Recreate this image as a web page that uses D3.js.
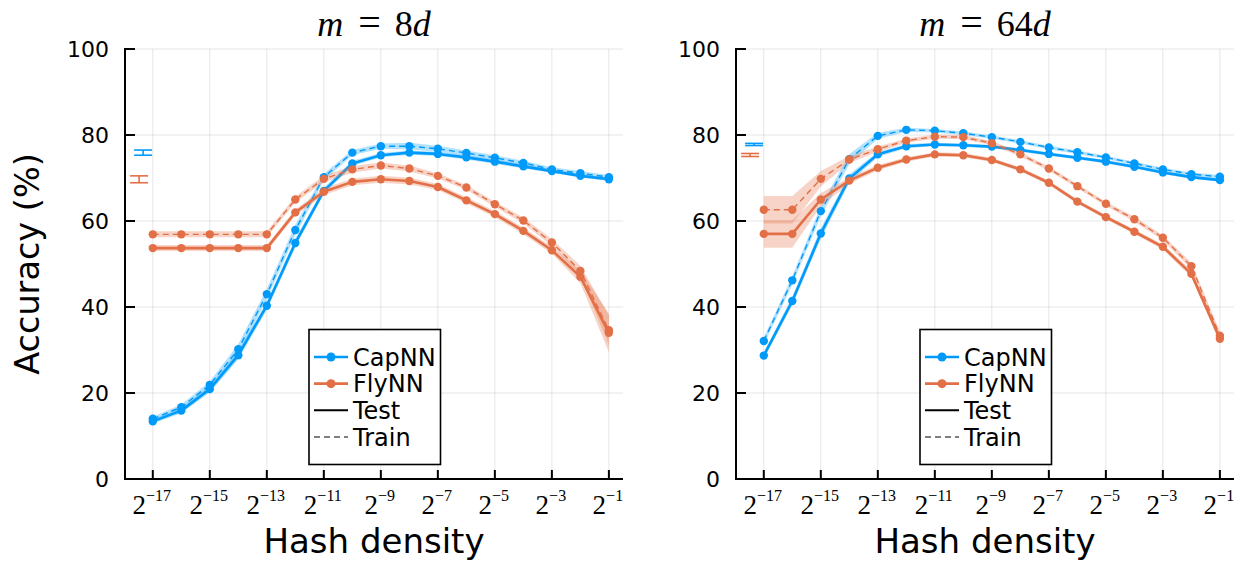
<!DOCTYPE html>
<html>
<head>
<meta charset="utf-8">
<script src="https://cdn.jsdelivr.net/npm/d3@7"></script>
<style>
  html, body { margin: 0; padding: 0; background: #ffffff; }
  svg { display: block; }
</style>
</head>
<body>
<svg id="chart" width="1240" height="563"></svg>
<script>
// ---------------- DATA ----------------
const exponents = [-17, -16, -15, -14, -13, -12, -11, -10, -9, -8, -7, -6, -5, -4, -3, -2, -1];
const xTickExps = [-17, -15, -13, -11, -9, -7, -5, -3, -1];
const yTicks = [0, 20, 40, 60, 80, 100];
const seriesNames = ["CapNN", "FlyNN"];
const legendLabels = ["CapNN", "FlyNN", "Test", "Train"];
const titles = ["8d", "64d"];

// m = 8d
const capTest8  = [13.4, 15.9, 20.9, 28.8, 40.3, 54.9, 67.0, 73.4, 75.3, 75.9, 75.6, 74.8, 73.8, 72.7, 71.6, 70.5, 69.7];
const capTrain8 = [14.0, 16.7, 21.9, 30.2, 43.0, 57.9, 70.2, 75.9, 77.4, 77.4, 76.8, 75.8, 74.7, 73.5, 72.0, 71.1, 70.2];
const flyTest8  = [53.7, 53.7, 53.7, 53.7, 53.7, 62.0, 66.8, 69.1, 69.7, 69.3, 67.9, 64.8, 61.6, 57.7, 53.2, 47.0, 34.0];
const flyTrain8 = [56.9, 56.9, 56.9, 56.9, 56.9, 65.0, 69.8, 72.0, 72.9, 72.2, 70.5, 67.8, 63.9, 60.1, 55.0, 48.4, 34.6];
const capTestSd8  = [0.5, 0.6, 0.8, 1.0, 1.0, 1.0, 0.8, 0.6, 0.5, 0.5, 0.5, 0.5, 0.5, 0.5, 0.4, 0.4, 0.4];
const capTrainSd8 = [0.5, 0.6, 0.8, 1.2, 1.2, 1.2, 0.8, 0.6, 0.6, 0.8, 0.7, 0.6, 0.6, 0.5, 0.5, 0.5, 0.5];
const flyTestSd8  = [0.7, 0.7, 0.7, 0.7, 0.7, 0.7, 0.8, 0.8, 0.8, 0.8, 0.7, 0.7, 0.7, 0.8, 0.8, 1.5, 4.5];
const flyTrainSd8 = [0.7, 0.7, 0.7, 0.7, 0.7, 0.7, 0.8, 0.8, 0.7, 0.7, 0.6, 0.6, 0.6, 0.7, 0.8, 1.2, 3.5];

// m = 64d
const capTest64  = [28.7, 41.4, 57.1, 69.9, 75.5, 77.4, 77.8, 77.6, 77.3, 76.5, 75.6, 74.7, 73.8, 72.6, 71.3, 70.2, 69.5];
const capTrain64 = [32.1, 46.2, 62.3, 74.4, 79.8, 81.2, 81.0, 80.4, 79.5, 78.4, 77.1, 76.0, 74.8, 73.4, 72.0, 70.9, 70.3];
const flyTest64  = [57.0, 57.0, 65.0, 69.4, 72.4, 74.3, 75.5, 75.3, 74.2, 72.0, 68.9, 64.5, 60.9, 57.5, 54.0, 47.7, 32.6];
const flyTrain64 = [62.6, 62.6, 69.8, 74.3, 76.7, 78.7, 79.6, 79.5, 78.1, 75.5, 72.2, 68.1, 64.0, 60.4, 56.1, 49.5, 33.3];
const capTestSd64  = [0.8, 1.0, 1.2, 1.0, 0.6, 0.5, 0.4, 0.4, 0.4, 0.4, 0.4, 0.4, 0.4, 0.4, 0.4, 0.4, 0.4];
const capTrainSd64 = [0.8, 1.0, 1.2, 1.2, 0.7, 0.5, 0.4, 0.4, 0.4, 0.4, 0.4, 0.4, 0.4, 0.4, 0.4, 0.4, 0.4];
const flyTestSd64  = [3.2, 3.2, 1.5, 0.8, 0.6, 0.5, 0.5, 0.5, 0.5, 0.5, 0.5, 0.5, 0.5, 0.5, 0.6, 0.8, 1.0];
const flyTrainSd64 = [3.2, 3.2, 1.8, 0.8, 0.6, 0.5, 0.5, 0.5, 0.5, 0.5, 0.5, 0.5, 0.5, 0.6, 0.6, 0.8, 1.0];

// baseline error bars (log2 x position, mean, half-error)
const baseX = [-17.34, -17.48];
const baseMean8 = [75.9, 69.7];
const baseErr8  = [0.6, 0.8];
const baseMean64 = [77.8, 75.35];
const baseErr64  = [0.25, 0.35];

// ---------------- STYLE ----------------
const colors = ["#009AFA", "#E36F47"];
const sansFont = "'DejaVu Sans', sans-serif";
const serifFont = "'Liberation Serif', 'DejaVu Serif', serif";

const svg = d3.select("#chart");

const panels = [
  { left: 125, right: 623, title: titles[0],
    series: [
      { c: 0, test: capTest8, train: capTrain8, testSd: capTestSd8, trainSd: capTrainSd8 },
      { c: 1, test: flyTest8, train: flyTrain8, testSd: flyTestSd8, trainSd: flyTrainSd8 }
    ],
    baseMean: baseMean8, baseErr: baseErr8, showYLabel: true },
  { left: 736, right: 1234, title: titles[1],
    series: [
      { c: 0, test: capTest64, train: capTrain64, testSd: capTestSd64, trainSd: capTrainSd64 },
      { c: 1, test: flyTest64, train: flyTrain64, testSd: flyTestSd64, trainSd: flyTrainSd64 }
    ],
    baseMean: baseMean64, baseErr: baseErr64, showYLabel: false }
];

const plotTop = 49, plotBottom = 479;

panels.forEach(p => {
  const x = d3.scaleLinear().domain([-17.975, -0.505]).range([p.left, p.right]);
  const y = d3.scaleLinear().domain([0, 100]).range([plotBottom, plotTop]);
  const g = svg.append("g");

  // grid
  g.append("g").selectAll("line").data(xTickExps).join("line")
    .attr("x1", d => x(d)).attr("x2", d => x(d))
    .attr("y1", plotTop).attr("y2", plotBottom)
    .attr("stroke", "#000").attr("stroke-opacity", 0.1).attr("stroke-width", 1);
  g.append("g").selectAll("line").data(yTicks).join("line")
    .attr("x1", p.left).attr("x2", p.right)
    .attr("y1", d => y(d)).attr("y2", d => y(d))
    .attr("stroke", "#000").attr("stroke-opacity", 0.1).attr("stroke-width", 1);

  // series
  p.series.forEach(s => {
    const col = colors[s.c];
    [["train", "trainSd"], ["test", "testSd"]].forEach(([k, sdk]) => {
      const vals = s[k], sds = s[sdk];
      const pts = exponents.map((e, i) => ({ e, v: vals[i], sd: sds[i] }));
      const area = d3.area().x(d => x(d.e)).y0(d => y(d.v - d.sd)).y1(d => y(d.v + d.sd));
      g.append("path").attr("d", area(pts)).attr("fill", col).attr("fill-opacity", 0.3).attr("stroke", "none");
    });
    [["test", false], ["train", true]].forEach(([k, dashed]) => {
      const vals = s[k];
      const pts = exponents.map((e, i) => ({ e, v: vals[i] }));
      const line = d3.line().x(d => x(d.e)).y(d => y(d.v));
      g.append("path").attr("d", line(pts)).attr("fill", "none").attr("stroke", col)
        .attr("stroke-width", dashed ? 1.4 : 2.6)
        .attr("stroke-dasharray", dashed ? "6,4" : null)
        .attr("stroke-linejoin", "round");
      g.append("g").selectAll("circle").data(pts).join("circle")
        .attr("cx", d => x(d.e)).attr("cy", d => y(d.v)).attr("r", 4.2)
        .attr("fill", col);
    });
  });

  // baseline error bars
  baseX.forEach((bx, i) => {
    const col = colors[i];
    const cx = x(bx), m = p.baseMean[i], e = p.baseErr[i];
    const eb = g.append("g").attr("stroke", col).attr("stroke-width", 1.6);
    eb.append("line").attr("x1", cx).attr("x2", cx).attr("y1", y(m - e)).attr("y2", y(m + e));
    eb.append("line").attr("x1", cx - 9).attr("x2", cx + 9).attr("y1", y(m - e)).attr("y2", y(m - e));
    eb.append("line").attr("x1", cx - 9).attr("x2", cx + 9).attr("y1", y(m + e)).attr("y2", y(m + e));
  });

  // axes
  g.append("line").attr("x1", p.left).attr("x2", p.left).attr("y1", plotTop - 1).attr("y2", plotBottom + 1)
    .attr("stroke", "#000").attr("stroke-width", 2);
  g.append("line").attr("x1", p.left - 1).attr("x2", p.right).attr("y1", plotBottom).attr("y2", plotBottom)
    .attr("stroke", "#000").attr("stroke-width", 2);
  // y ticks (inward)
  g.append("g").selectAll("line").data(yTicks).join("line")
    .attr("x1", p.left).attr("x2", p.left + 10).attr("y1", d => y(d)).attr("y2", d => y(d))
    .attr("stroke", "#000").attr("stroke-width", 2);
  g.append("g").selectAll("text").data(yTicks).join("text")
    .attr("x", p.left - 16).attr("y", d => y(d)).attr("dy", "0.36em")
    .attr("text-anchor", "end").attr("font-family", sansFont).attr("font-size", 22)
    .attr("fill", "#000").text(d => d);
  // x ticks (inward)
  g.append("g").selectAll("line").data(xTickExps).join("line")
    .attr("x1", d => x(d)).attr("x2", d => x(d)).attr("y1", plotBottom).attr("y2", plotBottom - 9)
    .attr("stroke", "#000").attr("stroke-width", 2);
  const xt = g.append("g").selectAll("text").data(xTickExps).join("text")
    .attr("x", d => x(d) - 1).attr("y", 514)
    .attr("text-anchor", "middle").attr("font-family", serifFont).attr("fill", "#000");
  xt.append("tspan").attr("font-size", 27).text("2");
  xt.append("tspan").attr("font-size", 16).attr("dy", -13).text(d => "\u2212" + Math.abs(d));

  // title
  const tt = g.append("text").attr("x", (p.left + p.right) / 2).attr("y", 36)
    .attr("text-anchor", "middle").attr("font-family", serifFont).attr("font-size", 36).attr("fill", "#000");
  tt.append("tspan").attr("font-style", "italic").text("m");
  tt.append("tspan").attr("dx", 15).attr("font-size", 40).text("=");
  tt.append("tspan").attr("dx", 14).text(p.title.slice(0, -1));
  tt.append("tspan").attr("font-style", "italic").text("d");

  // x label
  g.append("text").attr("x", (p.left + p.right) / 2).attr("y", 553)
    .attr("text-anchor", "middle").attr("font-family", sansFont).attr("font-size", 34)
    .attr("fill", "#000").text("Hash density");

  if (p.showYLabel) {
    g.append("text").attr("transform", `translate(38.5,${(plotTop + plotBottom) / 2}) rotate(-90)`)
      .attr("text-anchor", "middle").attr("font-family", sansFont).attr("font-size", 33.5)
      .attr("fill", "#000").text("Accuracy (%)");
  }

  // legend
  const lx = p.left + 184, ly = 329.5, lw = 131.5, lh = 135;
  const lg = g.append("g");
  lg.append("rect").attr("x", lx).attr("y", ly).attr("width", lw).attr("height", lh)
    .attr("fill", "#fff").attr("stroke", "#000").attr("stroke-width", 1.6);
  const rowY = d3.scaleLinear().domain([0, 3]).range([ly + 27.5, ly + 107.5]);
  legendLabels.forEach((lab, i) => {
    const yy = rowY(i);
    const col = i < 2 ? colors[i] : "#000";
    const dashed = i === 3;
    lg.append("line").attr("x1", lx + 5).attr("x2", lx + 39).attr("y1", yy).attr("y2", yy)
      .attr("stroke", col).attr("stroke-width", i < 2 ? 2.6 : (dashed ? 1.2 : 2))
      .attr("stroke-dasharray", dashed ? "6,4" : null);
    if (i < 2) {
      lg.append("circle").attr("cx", lx + 22).attr("cy", yy).attr("r", 4.5).attr("fill", col);
    }
    lg.append("text").attr("x", lx + 44).attr("y", yy).attr("dy", "0.36em")
      .attr("font-family", sansFont).attr("font-size", 24).attr("fill", "#000").text(lab);
  });
});
</script>
</body>
</html>
